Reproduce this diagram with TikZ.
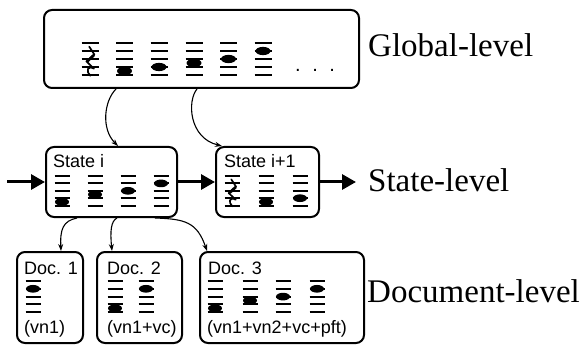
\documentclass[tikz,border=0pt]{standalone}
\usepackage{fontspec}
\setmainfont{Liberation Serif}
\newfontfamily\labelsans{Liberation Sans}
\usetikzlibrary{arrows.meta}

% five-line staff: centre x, top line y, half width, line spacing
\newcommand\Staff[4]{%
  \foreach \k in {0,...,4}{\draw[staffline] (#1-#3,#2+\k*#4) -- (#1+#3,#2+\k*#4);}}
% note head: centre x, top line y, line spacing, half-steps below top line, x radius
\newcommand\Head[5]{%
  \fill[notehead] (#1,#2+#4*#3/2) ellipse [x radius=#5pt, y radius=0.55*#5pt];}
% quarter rest: centre x, top line y, line spacing
\newcommand\Rest[3]{%
  \draw[restmark] (#1-0.1*#3,#2+0.45*#3) -- (#1+0.55*#3,#2+1.45*#3)
      -- (#1-0.45*#3,#2+2.3*#3) -- (#1+0.5*#3,#2+3.2*#3)
      .. controls (#1-0.35*#3,#2+2.75*#3) and (#1-0.55*#3,#2+3.55*#3) .. (#1+0.05*#3,#2+4.1*#3);
  \draw[restmark, line width=2.8pt] (#1+0.45*#3,#2+1.55*#3) -- (#1-0.3*#3,#2+2.25*#3);}

\begin{document}
\begin{tikzpicture}[x=1pt, y=-1pt,
  box/.style={draw, line width=2pt, rounded corners=8pt, inner sep=0pt},
  staffline/.style={line width=2pt},
  notehead/.style={fill=black},
  restmark/.style={line width=1.7pt, line join=round, line cap=round},
  bigarrow/.style={line width=3pt, -{Triangle[length=14pt, width=15pt]}},
  link/.style={line width=1.1pt, -{Stealth[length=7pt, width=5pt]}},
  tag/.style={anchor=base west, inner sep=0pt, font=\labelsans\fontsize{18}{21}\selectfont},
  level/.style={anchor=base west, inner sep=0pt, font=\fontsize{33}{38}\selectfont}]
\useasboundingbox (0,0) rectangle (585,347);

% boxes
\node[box, minimum width=315pt, minimum height=78pt] (g) at (201.5,49) {};
\node[box, minimum width=131pt, minimum height=70pt] (si) at (111.5,182) {};
\node[box, minimum width=103pt, minimum height=70pt] (sj) at (267.5,182) {};
\node[box, minimum width=66pt, minimum height=91pt] (d1) at (50,297.5) {};
\node[box, minimum width=85pt, minimum height=91pt] (d2) at (139.5,297.5) {};
\node[box, minimum width=164pt, minimum height=91pt] (d3) at (282,297.5) {};

% global sequence
\Staff{90}{43}{8.5}{8}\Rest{90}{43}{8}
\Staff{124.5}{43}{8.5}{8}\Head{124.5}{43}{8}{7}{7.5}
\Staff{159}{43}{8.5}{8}\Head{159}{43}{8}{6}{7.5}
\Staff{194}{43}{8.5}{8}\Head{194}{43}{8}{5}{7.5}
\Staff{228.5}{43}{8.5}{8}\Head{228.5}{43}{8}{4}{7.5}
\Staff{263}{43}{8.5}{8}\Head{263}{43}{8}{2}{7.5}
\node[anchor=base west, inner sep=0pt, font=\labelsans\fontsize{20}{22}\selectfont] (dots) at (295,71.5) {.\hspace{11.5pt}.\hspace{11.5pt}.};

% state i
\node[tag] (ti) at (53,168) {State i};
\Staff{62}{176}{7.5}{7.4}\Head{62}{176}{7.4}{7}{7}
\Staff{95}{176}{7.5}{7.4}\Head{95}{176}{7.4}{5}{7}
\Staff{128}{176}{7.5}{7.4}\Head{128}{176}{7.4}{4}{7}
\Staff{161}{176}{7.5}{7.4}\Head{161}{176}{7.4}{2}{7}

% state i+1
\node[tag] (tj) at (224,168) {State i+1};
\Staff{232}{176}{7.5}{7.4}\Rest{232}{176}{7.4}
\Staff{266}{176}{7.5}{7.4}\Head{266}{176}{7.4}{7}{7}
\Staff{300}{176}{7.5}{7.4}\Head{300}{176}{7.4}{6}{7}

% documents
\node[tag] (t1) at (24,274) {Doc. 1};
\Staff{33}{281}{7.5}{7.8}\Head{33}{281}{7.8}{2}{7}
\node[tag] (p1) at (24,333) {(vn1)};

\node[tag] (t2) at (107,274) {Doc. 2};
\Staff{115}{281}{7.5}{7.8}\Head{115}{281}{7.8}{7}{7}
\Staff{146}{281}{7.5}{7.8}\Head{146}{281}{7.8}{2}{7}
\node[tag] (p2) at (107,333) {(vn1+vc)};

\node[tag] (t3) at (208,274) {Doc. 3};
\Staff{215}{281}{7.5}{7.8}\Head{215}{281}{7.8}{7}{7}
\Staff{250}{281}{7.5}{7.8}\Head{250}{281}{7.8}{5}{7}
\Staff{283}{281}{7.5}{7.8}\Head{283}{281}{7.8}{4}{7}
\Staff{317}{281}{7.5}{7.8}\Head{317}{281}{7.8}{2}{7}
\node[tag] (p3) at (207,333) {(vn1+vn2+vc+pft)};

% level names
\node[level] (lg) at (368,57) {Global-level};
\node[level] (ls) at (368,192) {State-level};
\node[level] (ld) at (367,302) {Document-level};

% sequence arrows
\coordinate (in) at (7,182);
\coordinate (out) at (356,182);
\draw[bigarrow] (in) -- (si.west);
\draw[bigarrow] (si.east) -- (sj.west);
\draw[bigarrow] (sj.east) -- (out);

% links between levels
\draw[link] ([xshift=73pt]g.south west) .. controls +(-12,12) and +(-17,-17) .. ([xshift=73pt]si.north west);
\draw[link] ([xshift=154pt]g.south west) .. controls +(-10,12) and +(-33,-8) .. ([xshift=7pt]sj.north west);
\draw[link] ([xshift=32pt]si.south west) .. controls +(-14,3) and +(-1,-22) .. ([xshift=45pt]d1.north west);
\draw[link] ([xshift=72pt]si.south west) .. controls +(-6,3) and +(-2,-20) .. ([xshift=16pt]d2.north west);
\draw[link] ([xshift=110pt]si.south west) .. controls +(30,1) and +(-10,-29) .. ([xshift=8pt]d3.north west);
\end{tikzpicture}
\end{document}
